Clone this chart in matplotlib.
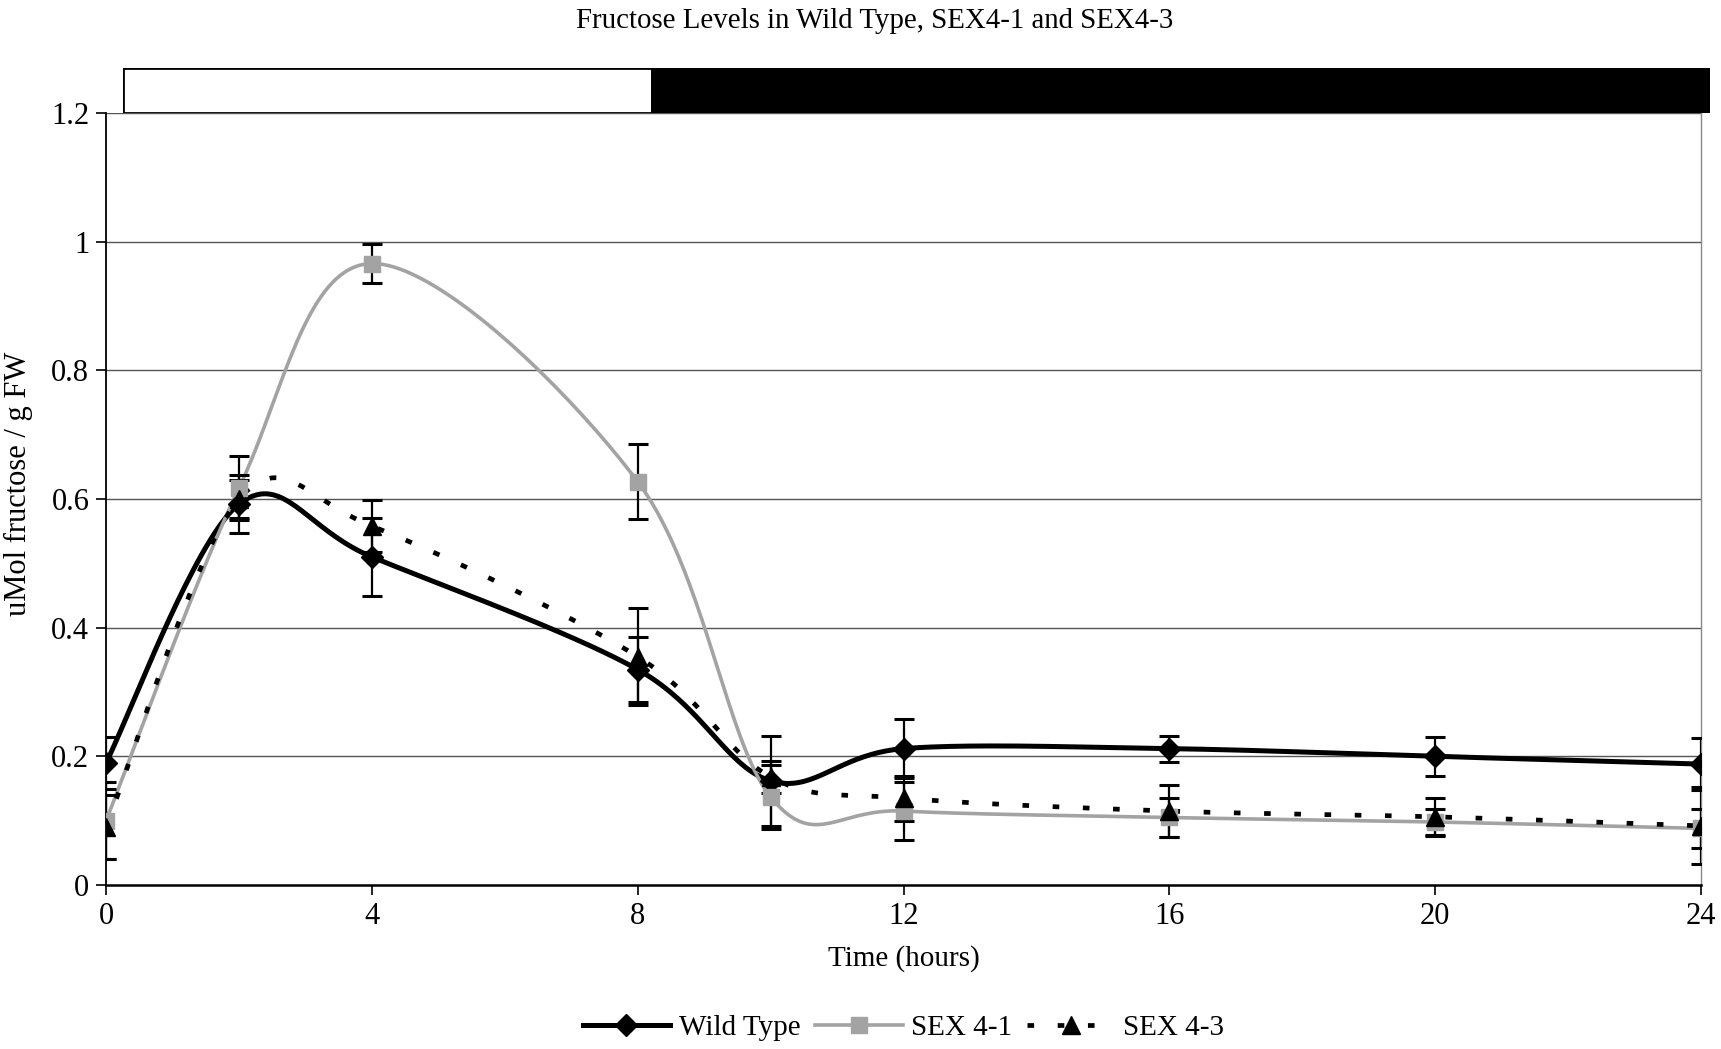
import matplotlib.pyplot as plt
import numpy as np
from matplotlib.lines import Line2D
from matplotlib.patches import Rectangle

hours = [0, 2, 4, 8, 10, 12, 16, 20, 24]

wild_type = [0.19, 0.592, 0.51, 0.335, 0.162, 0.212, 0.212, 0.20, 0.188]
wild_type_err = [0.04, 0.045, 0.06, 0.05, 0.07, 0.046, 0.02, 0.03, 0.04]

sex4_1 = [0.10, 0.617, 0.966, 0.627, 0.137, 0.115, 0.105, 0.098, 0.088]
sex4_1_err = [0.06, 0.05, 0.03, 0.058, 0.05, 0.045, 0.03, 0.02, 0.03]

sex4_3 = [0.09, 0.60, 0.558, 0.355, 0.168, 0.135, 0.115, 0.106, 0.092]
sex4_3_err = [0.05, 0.03, 0.04, 0.075, 0.025, 0.035, 0.04, 0.03, 0.06]

light_period = (0, 8)
dark_period = (8, 24)

x_ticks = [0, 4, 8, 12, 16, 20, 24]
y_ticks = [0, 0.2, 0.4, 0.6, 0.8, 1.0, 1.2]

GREY = "#a3a3a3"
plt.rcParams["font.family"] = ["Liberation Serif", "DejaVu Serif"]


def excel_smooth(xs, ys, steps=40):
    # bezier smoothing similar to the spreadsheet "smoothed line" option
    p = np.column_stack([xs, ys]).astype(float)
    n = len(p)
    out = []
    for i in range(n - 1):
        p_prev = p[i - 1] if i > 0 else p[i]
        p_next2 = p[i + 2] if i + 2 < n else p[i + 1]
        c1 = p[i] + (p[i + 1] - p_prev) / 6
        c2 = p[i + 1] - (p_next2 - p[i]) / 6
        t = np.linspace(0, 1, steps)[:, None]
        seg = ((1 - t) ** 3) * p[i] + 3 * ((1 - t) ** 2) * t * c1 \
            + 3 * (1 - t) * t ** 2 * c2 + t ** 3 * p[i + 1]
        out.append(seg if i == 0 else seg[1:])
    out = np.vstack(out)
    return out[:, 0], out[:, 1]


fig = plt.figure(figsize=(17.21, 10.49), dpi=100)
ax = fig.add_axes([0.0616, 0.1563, 0.9268, 0.736])

for y in y_ticks[1:]:
    ax.axhline(y, color="#555555", lw=1.0, zorder=0)

series = [
    (wild_type, wild_type_err, "black", "-", 3.6, "D", 11, "Wild Type"),
    (sex4_1, sex4_1_err, GREY, "-", 2.6, "s", 11, "SEX 4-1"),
    (sex4_3, sex4_3_err, "black", (0, (1.4, 5.0)), 3.4, "^", 13, "SEX 4-3"),
]

handles = []
for vals, errs, col, ls, lw, mk, ms, name in series:
    sx, sy = excel_smooth(hours, vals)
    ax.plot(sx, sy, color=col, ls=ls, lw=lw, zorder=3)
    ax.errorbar(hours, vals, yerr=errs, fmt="none", ecolor="black",
                elinewidth=1.6, capsize=7, capthick=2.2, zorder=4)
    ax.plot(hours, vals, ls="none", marker=mk, ms=ms, color=col,
            mec=col, zorder=5)
    handles.append(Line2D([], [], color=col, ls=ls, lw=lw, marker=mk,
                          ms=ms, mec=col))

ax.set_xlim(0, 24)
ax.set_ylim(0, 1.2)
ax.set_xticks(x_ticks)
ax.set_yticks(y_ticks)
ax.set_yticklabels([f"{v:g}" for v in y_ticks])
ax.tick_params(labelsize=22, direction="out", length=7, width=1.2, pad=5)

ax.spines["top"].set_visible(False)
ax.spines["right"].set_color("#888888")
ax.spines["right"].set_linewidth(1.0)
ax.spines["left"].set_linewidth(1.3)
ax.spines["bottom"].set_linewidth(1.8)

ax.set_xlabel("Time (hours)", fontsize=21, labelpad=10)
ax.set_ylabel("uMol fructose / g FW", fontsize=22)
ax.yaxis.set_label_coords(-0.046, 0.52)

fig.suptitle("Fructose Levels in Wild Type, SEX4-1 and SEX4-3",
             fontsize=20.8, x=0.508, y=0.992)

# light / dark period bar
bar = fig.add_axes([0.0715, 0.892, 0.922, 0.043])
bar.set_xlim(0, 24)
bar.set_ylim(0, 1)
bar.axis("off")
bar.add_patch(Rectangle((light_period[0], 0), light_period[1] - light_period[0],
                        1, facecolor="white", edgecolor="black", lw=2.0))
bar.add_patch(Rectangle((dark_period[0], 0), dark_period[1] - dark_period[0],
                        1, facecolor="black", edgecolor="black", lw=2.0))

fig.legend(handles, ["Wild Type", "SEX 4-1", "SEX 4-3"], loc="center",
           bbox_to_anchor=(0.525, 0.02), ncol=3, frameon=False,
           fontsize=21, handlelength=3.0, columnspacing=0.5,
           handletextpad=0.3)

fig.savefig("out.png", dpi=100)
